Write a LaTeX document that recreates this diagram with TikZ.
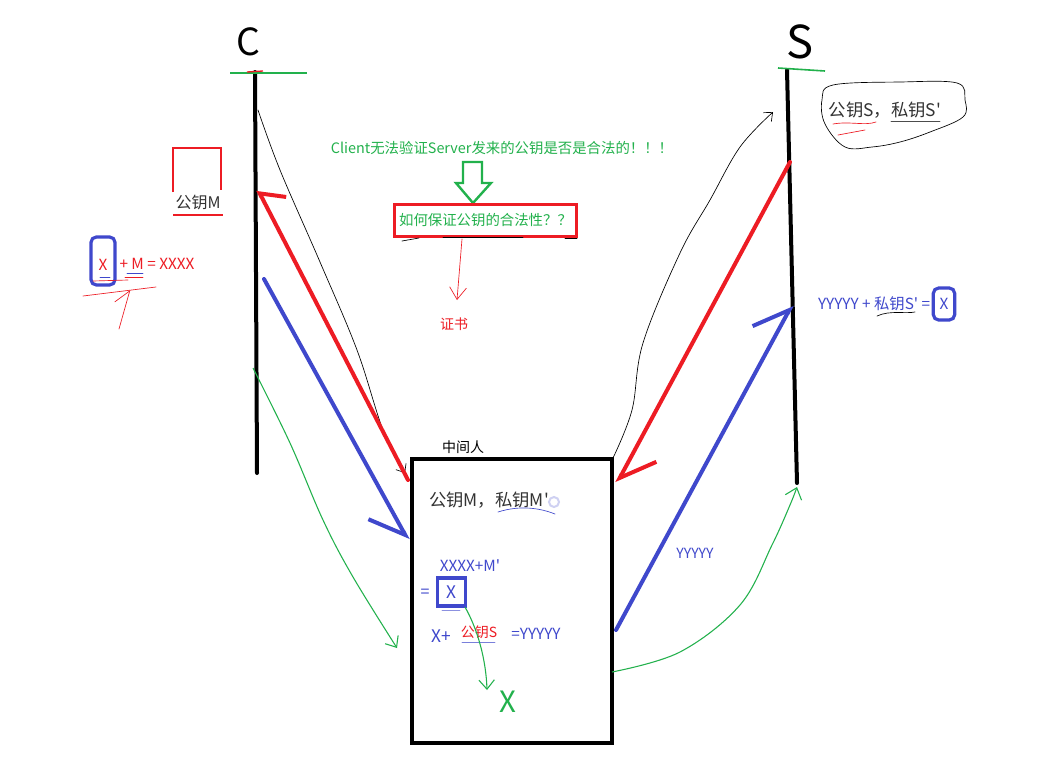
\documentclass[tikz,border=0pt]{standalone}
\usepackage{fontspec}
\setmainfont{Noto Sans CJK SC}
\usetikzlibrary{arrows.meta,positioning,calc}
\definecolor{pRed}{HTML}{ED1C24}
\definecolor{pBlue}{HTML}{3F48CC}
\definecolor{pGreen}{HTML}{22B14C}
\newcommand\fsz[1]{\fontsize{#1}{#1}\selectfont}

\begin{document}
\begin{tikzpicture}[x=0.75pt, y=-0.75pt,
  font=\fsz{10.5},
  txt/.style={inner sep=0pt, align=center},
  life/.style={line width=3pt, line cap=round},
  thick pen/.style={line width=3pt, line cap=round, line join=round},
  thin pen/.style={line width=0.5pt, line cap=round, line join=round},
  half tip/.style={-{Straight Barb[harpoon, angle=76:#1]}},
  half tip swap/.style={-{Straight Barb[harpoon, swap, angle=76:#1]}},
  open tip/.style={-{Straight Barb[angle=80:#1]}},
  keybox/.style={draw=pBlue, line width=2.4pt, inner sep=0pt, text=pBlue}
]
\useasboundingbox[fill=white] (0,0) rectangle (1054,768);

% ---------- client and server ----------
\node[txt, font=\fsz{28}] (cLab) at (248,42) {C};
\node[txt, font=\fsz{34}] (sLab) at (800,42) {S};
\coordinate (cTop) at (255,72);
\coordinate (cBot) at (257,473);
\coordinate (sTop) at (787,70);
\coordinate (sBot) at (797,483);
\draw[life] (cTop) -- (cBot);
\draw[life] (sTop) -- (sBot);
\draw[pGreen, line width=1.2pt] (230,73) -- (307,73);
\draw[pRed, line width=1pt] (247,72) -- (263,71);
\draw[pGreen, line width=1.2pt] (778,68) -- (825,71);

% client side: fake key
\node[txt, text=black!80, font=\fsz{12}] (cKey) at (198,202) {公钥M};
\draw[pRed, line width=2.2pt] (173,192) -- (173,148) -- (221,148) -- (221,190);
\draw[pRed, line width=2.2pt] (173,215) -- (223,215);

\node[keybox, rounded corners=4pt, minimum width=18pt, minimum height=36pt,
      text height=14pt, text depth=0pt, text=pRed, font=\fsz{11.5}] (cX) at (103,261) {X};
\node[txt, text=pRed, font=\fsz{11.5}, right=2pt of cX, yshift=-2.5pt] (cEq) {+ M = XXXX};
\draw[pBlue, thin pen] (100,277) -- (110,277);
\draw[pBlue, thin pen] (127,273) -- (143,273);
\draw[pRed, thin pen] (125,277) -- (143,277);
\draw[pRed, thin pen] (93,281) -- (128,280);
\draw[pRed, thin pen] (83,296) -- (156,287);
\coordinate (cScrA) at (119,329);
\coordinate (cScrB) at (130,290);
\draw[pRed, thin pen, half tip=14pt] (cScrA) -- (cScrB);

% server side: real keys
\node[txt, text=black!80, font=\fsz{13}] (sKeys) at (885,110) {公钥S，私钥S\textquotesingle};
\draw[thin pen] plot[smooth cycle, tension=0.6] coordinates {(822,100) (833,85) (900,82)
  (957,83) (965,100) (963,117) (930,132) (900,142) (872,147) (845,147) (825,124)};
\draw[pRed, thin pen] (833,124) .. controls (850,121) and (865,126) .. (876,122);
\draw[pRed, thin pen] (838,135) -- (865,130);
\draw[black!70, thin pen] (891,121) -- (940,121);

\node[keybox, rounded corners=4pt, minimum width=16pt, minimum height=24pt,
      font=\fsz{11.5}] (sX) at (944,304) {X};
\node[txt, text=pBlue, font=\fsz{11.5}, left=1pt of sX] (sEq) {YYYYY + 私钥S\textquotesingle\ =};
\draw[thin pen] (877,316) .. controls (890,310) and (905,314) .. (915,312);

% ---------- question ----------
\node[txt, text=pGreen, font=\fsz{10.8}] (note) at (502,148)
  {Client无法验证Server发来的公钥是否是合法的！！！};
\draw[pGreen, line width=1.8pt, line join=miter] (463,162) -- (482,162) -- (482,183) -- (491,183)
  -- (473,203) -- (456,183) -- (463,183) -- cycle;
\node[draw=pRed, line width=2.4pt, text=pGreen, font=\fsz{10.8},
      minimum width=137pt, minimum height=24pt, inner sep=0pt] (ask) at (485.5,220.5)
  {如何保证公钥的合法性？？};
\draw[thin pen] (402,241) -- (419,238);
\draw[thin pen] (443,237) -- (523,237);
\draw[thin pen] (565,238) -- (577,238);
\node[txt, text=pRed] (cert) at (454,324) {证书};
\coordinate (askOut) at (462,239);
\coordinate (certIn) at (457,300);
\draw[pRed, thin pen, -{Straight Barb[angle=70:11pt]}] (askOut) -- (certIn);

% ---------- man in the middle ----------
\node[draw, line width=3pt, minimum width=150pt, minimum height=213pt, inner sep=0pt]
  (mitm) at (511.5,601) {};
\node[txt] (mLab) at (463,447) {中间人};
\node[txt, text=black!80, font=\fsz{13}] (mKeys) at (489,500) {公钥M，私钥M\textquotesingle};
\draw[pBlue, thin pen] (498,512) .. controls (520,505) and (540,508) .. (555,514);
\draw[pBlue!25, line width=1.5pt] (554,502) circle (5);

\node[txt, text=pBlue, font=\fsz{11.5}] (mSum) at (470,566) {XXXX+M\textquotesingle};
\node[txt, text=pBlue, font=\fsz{12}] (mEq) at (425,593) {=};
\node[keybox, minimum size=21pt, font=\fsz{13}] (mX) at (451.5,592) {X};
\draw[pBlue!60, thin pen] (442,610) -- (460,610);
\node[txt, text=pBlue, font=\fsz{13}] (mXp) at (441,636) {X+};
\node[txt, text=pRed] (mPub) at (479,632) {公钥S};
\draw[pBlue!70, thin pen] (462,642) -- (495,642);
\node[txt, text=pBlue, font=\fsz{11.5}] (mOut) at (536,634) {=YYYYY};
\node[txt, text=pGreen, font=\fsz{22}] (mGot) at (508,702) {X};
\coordinate (mXout) at (465,607);
\coordinate (mXin) at (487,690);
\draw[pGreen, line width=0.8pt, open tip=9pt] (mXout) .. controls (478,630) and (486,660) .. (mXin);

% ---------- messages ----------
\coordinate (cReqOut) at (258,110);
\coordinate (mReqIn) at (405,473);
\draw[thin pen, open tip=7pt] plot[smooth, tension=0.6] coordinates {(cReqOut) (280,170)
  (320,262) (357,350) (383,430) (mReqIn)};

\coordinate (mFakeOut) at (408,480);
\coordinate (cFakeIn) at (258,190);
\draw[pRed, thick pen, -{Straight Barb[harpoon, swap, angle=110:20pt]}] (mFakeOut) -- (cFakeIn);

\coordinate (cEncOut) at (264,279);
\coordinate (mEncIn) at (408,540);
\draw[pBlue, thick pen, half tip swap=30pt] (cEncOut) -- (mEncIn);

\coordinate (cGrnOut) at (253,368);
\coordinate (mGrnIn) at (397,648);
\draw[pGreen, line width=0.8pt, open tip=9pt] plot[smooth, tension=0.6] coordinates {(cGrnOut)
  (290,443) (323,520) (353,577) (mGrnIn)};

\coordinate (mReqOut) at (613,458);
\coordinate (sReqIn) at (773,112);
\draw[thin pen, open tip=7pt] plot[smooth, tension=0.6] coordinates {(mReqOut) (632,410)
  (643,343) (680,253) (710,200) (740,147) (sReqIn)};

\coordinate (sKeyOut) at (790,162);
\coordinate (mKeyIn) at (617,483);
\draw[pRed, thick pen, half tip=30pt] (sKeyOut) -- (mKeyIn);

\coordinate (mEncOut) at (616,630);
\coordinate (sEncIn) at (792,305);
\draw[pBlue, thick pen, half tip=30pt] (mEncOut) -- (sEncIn);
\node[txt, text=pBlue] (yLab) at (695,553) {YYYYY};

\coordinate (mGrnOut) at (612,672);
\coordinate (sGrnIn) at (797,487);
\draw[pGreen, line width=0.8pt, open tip=10pt] plot[smooth, tension=0.6] coordinates {(mGrnOut)
  (680,652) (740,605) (772,545) (790,505) (sGrnIn)};

\end{tikzpicture}
\end{document}
